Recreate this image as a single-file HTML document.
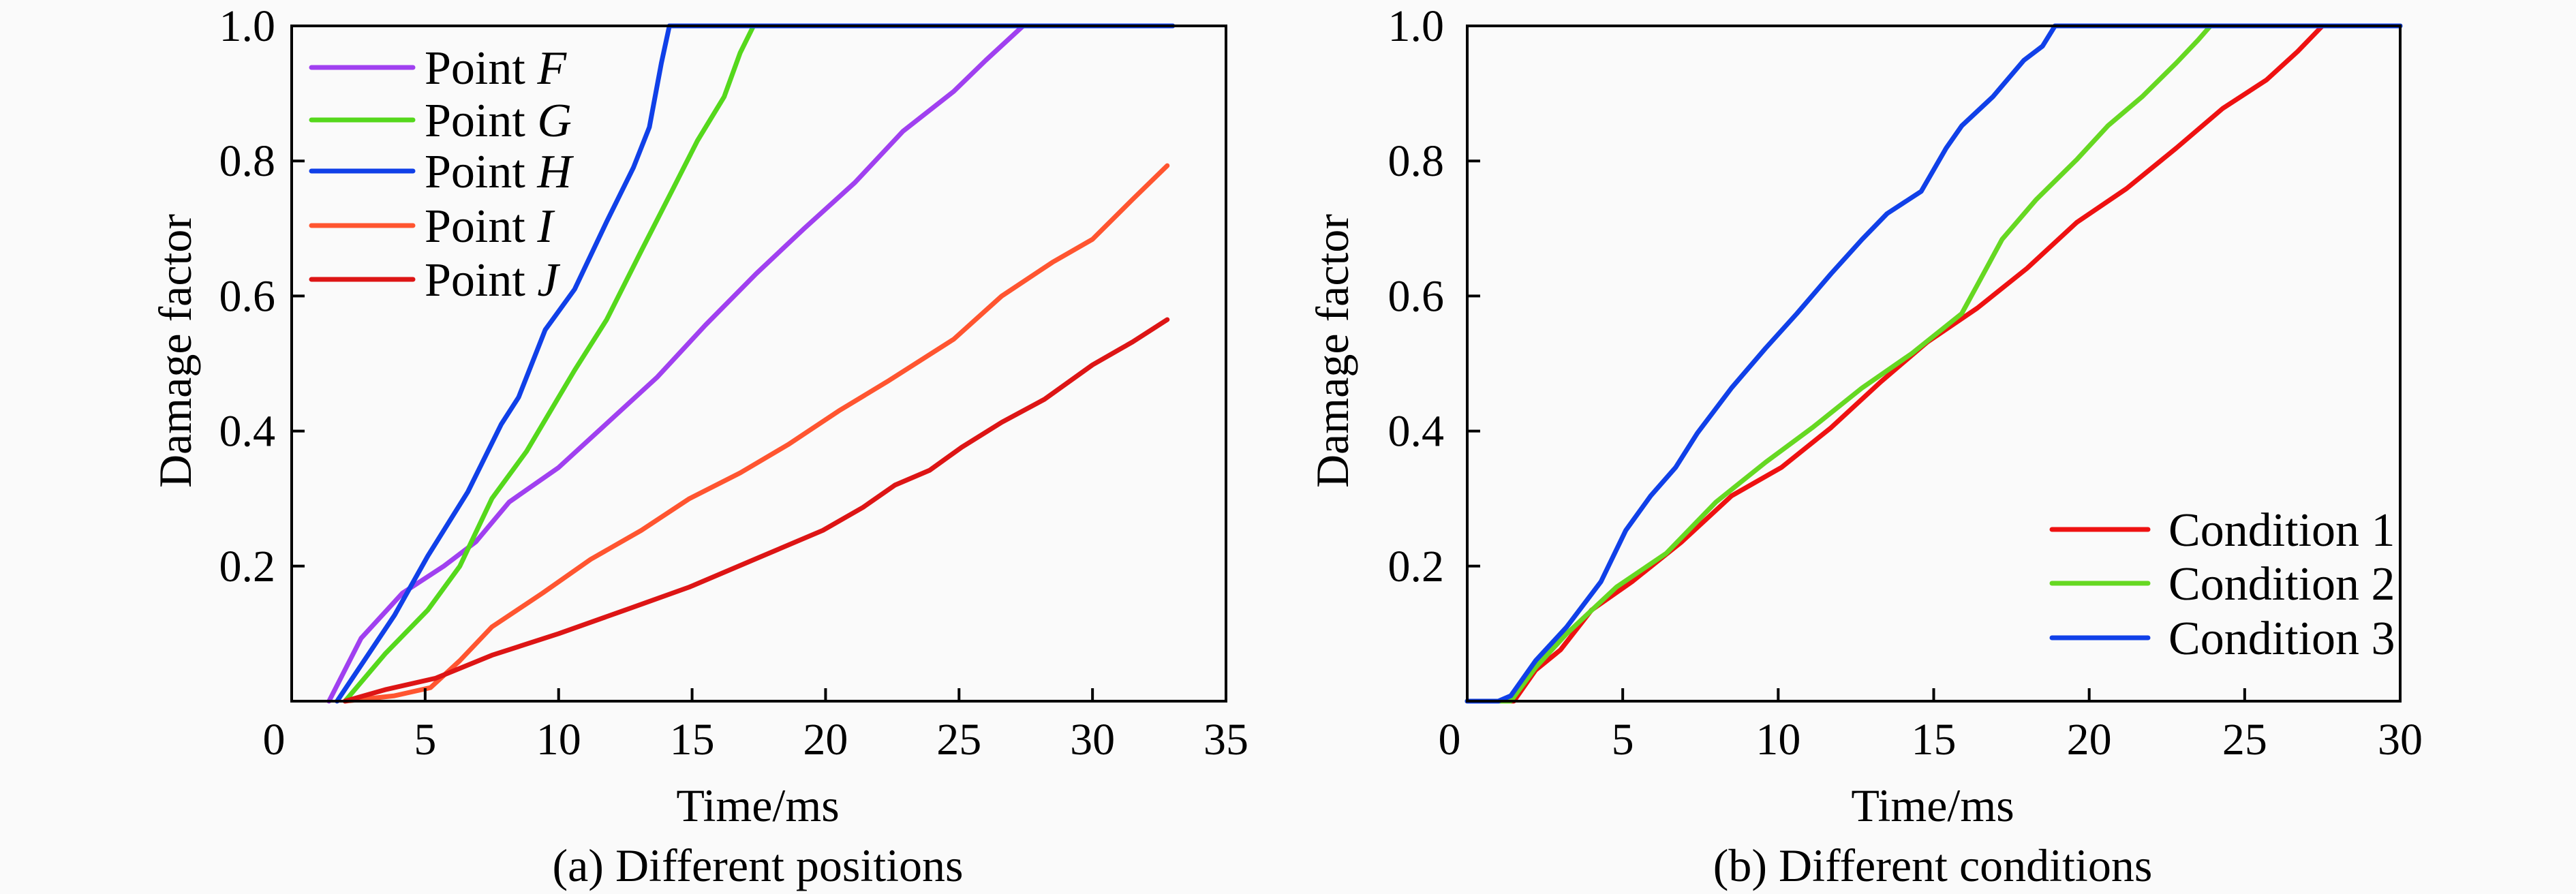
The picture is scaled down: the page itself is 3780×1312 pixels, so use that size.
<!DOCTYPE html>
<html><head><meta charset="utf-8"><style>
html,body{margin:0;padding:0;background:#fafafa;}
svg{display:block;}
text{font-family:"Liberation Serif","Times New Roman","DejaVu Serif",serif;}
</style></head><body>
<svg id="fig" width="3780" height="1312" viewBox="0 0 3780 1312" xmlns="http://www.w3.org/2000/svg">
<rect width="3780" height="1312" fill="#fafafa"/>
</svg>
<script>
// ---- Chart (a) data ----
const tF=[1.4,2.6,4.15,5.7,6.9,8.15,10,11.85,13.7,15.5,17.4,19.2,21.1,22.9,24.8,26,27.4,33];
const dF=[0,0.093,0.16,0.2,0.236,0.295,0.346,0.413,0.48,0.557,0.633,0.7,0.768,0.844,0.903,0.949,1,1];
const tG=[2,3.5,5.1,6.3,7.5,8.8,10.6,11.8,13.1,14.3,15.2,16.2,16.8,17.3,33];
const dG=[0,0.07,0.135,0.2,0.3,0.37,0.49,0.565,0.667,0.76,0.83,0.895,0.96,1,1];
const tH=[1.7,3.85,5.1,6.6,7.85,8.5,9.5,10.6,11.8,12.8,13.4,13.85,14.15,33];
const dH=[0,0.127,0.215,0.31,0.41,0.45,0.55,0.61,0.71,0.79,0.85,0.945,1,1];
const tI=[2,3.85,5.2,6.3,7.5,9.4,11.2,13.1,14.9,16.8,18.6,20.5,22.3,24.8,26.6,28.5,30,31.5,32.8];
const dI=[0,0.008,0.02,0.06,0.11,0.16,0.21,0.253,0.3,0.338,0.38,0.43,0.473,0.536,0.6,0.65,0.684,0.743,0.793];
const tJ=[2,3.5,5.4,7.5,10,12.5,14.9,17.4,19.9,21.4,22.6,23.9,25.1,26.6,28.2,30,31.5,32.8];
const dJ=[0,0.017,0.034,0.068,0.1,0.135,0.169,0.211,0.253,0.287,0.32,0.342,0.376,0.413,0.447,0.498,0.532,0.565];
const xTicksA=[0,5,10,15,20,25,30,35];
// ---- Chart (b) data ----
const tC1=[0,1.5,2.2,3,4,5.3,6.9,8.5,10.1,11.7,13.3,14.8,16.4,18,19.6,21.2,22.8,24.3,25.7,26.7,27.5,30];
const dC1=[0,0,0.046,0.076,0.135,0.177,0.236,0.304,0.346,0.405,0.473,0.532,0.582,0.641,0.709,0.759,0.819,0.878,0.92,0.962,1,1];
const tC2=[0,1.4,2.2,3.2,4.8,6.4,8,9.6,11.1,12.7,14.3,15.9,16.4,17.2,18.3,19.6,20.6,21.7,22.8,23.5,23.9,30];
const dC2=[0,0,0.05,0.1,0.169,0.219,0.295,0.354,0.405,0.464,0.515,0.574,0.616,0.684,0.743,0.802,0.852,0.895,0.945,0.979,1,1];
const tC3=[0,1.0,1.4,2.2,3.2,4.3,5.1,5.9,6.7,7.4,8.5,9.6,10.6,11.7,12.7,13.5,14.6,15.4,15.9,16.9,17.9,18.5,18.9,30];
const dC3=[0,0,0.008,0.06,0.11,0.177,0.253,0.304,0.346,0.397,0.464,0.523,0.574,0.633,0.684,0.722,0.755,0.819,0.852,0.895,0.949,0.97,1,1];
const xTicksB=[0,5,10,15,20,25,30];
const yTicks=[0.2,0.4,0.6,0.8,1.0];
const yTickLabels=["0.2","0.4","0.6","0.8","1.0"];

const NS="http://www.w3.org/2000/svg";
const svg=document.getElementById('fig');
function mk(tag,attrs,parent){const e=document.createElementNS(NS,tag);for(const k in attrs)e.setAttribute(k,attrs[k]);(parent||svg).appendChild(e);return e;}

function chart(cfg){
  const g=mk('g',{});
  
  
  const x=v=>cfg.x0+(v-cfg.xmin)/(cfg.xmax-cfg.xmin)*(cfg.x1-cfg.x0);
  const y=v=>cfg.y1-v*(cfg.y1-cfg.y0);
  cfg.series.forEach(s=>{
    const d=s.t.map((t,i)=>(i?'L':'M')+x(t).toFixed(1)+','+y(s.d[i]).toFixed(1)).join(' ');
    const p=mk('path',{d:d,fill:'none',stroke:s.color,'stroke-width':7,'stroke-linejoin':'round','stroke-linecap':'round'},g);
    
    
  });
  const fr=mk('rect',{x:cfg.x0,y:cfg.y0,width:cfg.x1-cfg.x0,height:cfg.y1-cfg.y0,fill:'none',stroke:'#000','stroke-width':4},g);
  
  
  cfg.xticks.forEach(v=>{
    const X=x(v);
    if(v>cfg.xmin&&v<cfg.xmax){const tk=mk('line',{x1:X,x2:X,y1:cfg.y1,y2:cfg.y1-19,stroke:'#000','stroke-width':4},g);
    
    }
    const tl=mk('text',{x:(v===cfg.xmin?X-26:X),y:1107,'font-size':66,'text-anchor':'middle',fill:'#000'},g);
    tl.textContent=String(v);
    
    
  });
  yTicks.forEach((v,i)=>{
    const Y=y(v);
    if(v<1){const tk=mk('line',{x1:cfg.x0,x2:cfg.x0+19,y1:Y,y2:Y,stroke:'#000','stroke-width':4},g);
    
    }
    const tl=mk('text',{x:cfg.ytx,y:Y+22,'font-size':66,'text-anchor':'end',fill:'#000'},g);
    tl.textContent=yTickLabels[i];
    
    
  });
  const yl=mk('text',{x:0,y:0,'font-size':68,'text-anchor':'middle',transform:`translate(${cfg.ylx},515) rotate(-90)`},g);
  yl.textContent='Damage factor';
  
  
  const xl=mk('text',{x:cfg.xlc,y:1205,'font-size':68,'text-anchor':'middle'},g);
  xl.textContent='Time/ms';
  
  
  const cap=mk('text',{x:cfg.xlc,y:1293,'font-size':68,'text-anchor':'middle'},g);
  cap.textContent=cfg.caption;
  
  
  cfg.series.forEach((s,i)=>{
    const Y=cfg.legY[i];
    const ll=mk('line',{x1:cfg.legX0,x2:cfg.legX1,y1:Y,y2:Y,stroke:s.color,'stroke-width':7,'stroke-linecap':'round'},g);
    
    
    const lt=mk('text',{x:cfg.legTX,y:Y+24,'font-size':70},g);
    
    
    lt.appendChild(document.createTextNode(s.label));
    if(s.ital){const ts=mk('tspan',{'font-style':'italic'},lt);ts.textContent=s.ital;}
  });
}

chart({name:'chart-a',x0:428,x1:1799,y0:38,y1:1029,xmin:0,xmax:35,xticks:xTicksA,ytx:404,ylx:280,xlc:1112,caption:'(a) Different positions',
  legX0:457,legX1:606,legTX:623,legY:[99,176,251,331,410],
  series:[
   {key:'point-f',t:tF,d:dF,color:'#a040f0',label:'Point ',ital:'F'},
   {key:'point-g',t:tG,d:dG,color:'#55d81c',label:'Point ',ital:'G'},
   {key:'point-h',t:tH,d:dH,color:'#1040e8',label:'Point ',ital:'H'},
   {key:'point-i',t:tI,d:dI,color:'#ff5530',label:'Point ',ital:'I'},
   {key:'point-j',t:tJ,d:dJ,color:'#dd1515',label:'Point ',ital:'J'}
  ]});
chart({name:'chart-b',x0:2153,x1:3522,y0:38,y1:1029,xmin:0,xmax:30,xticks:xTicksB,ytx:2119,ylx:1978,xlc:2836,caption:'(b) Different conditions',
  legX0:3011,legX1:3152,legTX:3182,legY:[777,856,936],
  series:[
   {key:'condition-1',t:tC1,d:dC1,color:'#ee1111',label:'Condition 1'},
   {key:'condition-2',t:tC2,d:dC2,color:'#66d822',label:'Condition 2'},
   {key:'condition-3',t:tC3,d:dC3,color:'#1040e8',label:'Condition 3'}
  ]});
</script>
</body></html>
